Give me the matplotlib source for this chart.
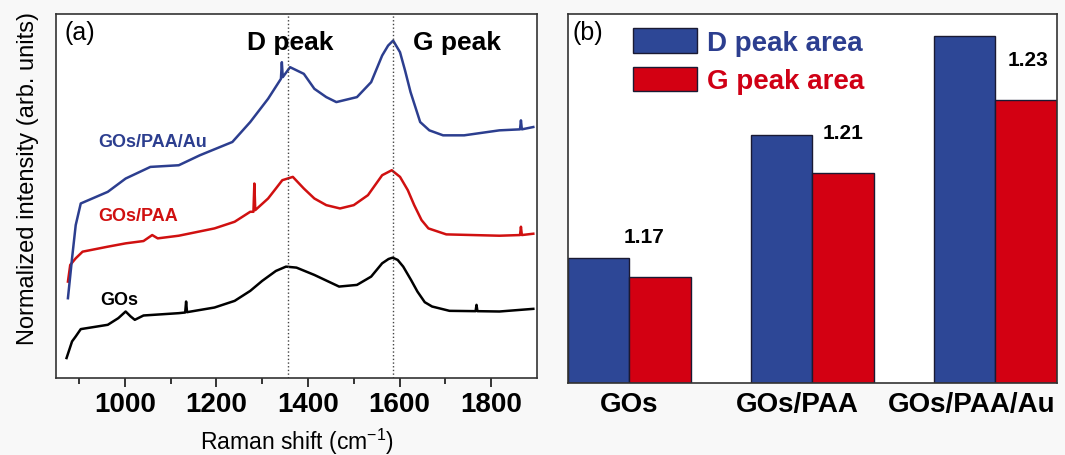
import matplotlib
matplotlib.use('Agg')
import matplotlib.pyplot as plt
import matplotlib.transforms as mtrans
import numpy as np

plt.rcParams['font.family'] = ['Liberation Sans', 'DejaVu Sans']
plt.rcParams['mathtext.fontset'] = 'custom'
plt.rcParams['mathtext.rm'] = 'Liberation Sans'

# ---- (a) Raman spectra ----
gos_x = [873, 885, 893, 904, 963, 986, 1002, 1013, 1022, 1041, 1118, 1132, 1134,
         1136, 1196, 1240, 1274, 1300, 1330, 1352, 1375, 1414, 1468, 1507, 1538,
         1562, 1576, 1585, 1596, 1608, 1625, 1639, 1655, 1671, 1709, 1766, 1768,
         1770, 1818, 1892]
gos_y = [0.060, 0.110, 0.125, 0.147, 0.160, 0.180, 0.200, 0.185, 0.175, 0.188,
         0.195, 0.197, 0.230, 0.198, 0.212, 0.232, 0.262, 0.292, 0.322, 0.335,
         0.332, 0.310, 0.275, 0.280, 0.305, 0.345, 0.358, 0.362, 0.355, 0.335,
         0.295, 0.260, 0.228, 0.215, 0.202, 0.201, 0.220, 0.201, 0.200, 0.208]

paa_x = [876, 881, 893, 908, 963, 1002, 1041, 1060, 1072, 1118, 1196, 1240, 1274,
         1281, 1283, 1285, 1313, 1330, 1344, 1367, 1391, 1414, 1440, 1470, 1500,
         1531, 1562, 1583, 1601, 1618, 1632, 1648, 1663, 1702, 1818, 1863, 1865,
         1867, 1892]
paa_y = [0.290, 0.340, 0.360, 0.380, 0.395, 0.405, 0.412, 0.430, 0.420, 0.428,
         0.450, 0.470, 0.500, 0.500, 0.585, 0.505, 0.540, 0.570, 0.595, 0.605,
         0.570, 0.540, 0.520, 0.510, 0.520, 0.550, 0.610, 0.625, 0.605, 0.565,
         0.520, 0.475, 0.450, 0.432, 0.428, 0.430, 0.455, 0.430, 0.434]

au_x = [876, 885, 893, 904, 963, 1002, 1056, 1118, 1164, 1235, 1274, 1313, 1341,
        1343, 1345, 1361, 1391, 1414, 1440, 1462, 1507, 1538, 1562, 1575, 1586,
        1601, 1612, 1624, 1645, 1665, 1695, 1741, 1818, 1863, 1865, 1867, 1892]
au_y = [0.240, 0.360, 0.460, 0.525, 0.560, 0.600, 0.635, 0.640, 0.670, 0.710,
        0.770, 0.840, 0.900, 0.950, 0.905, 0.935, 0.915, 0.870, 0.845, 0.830,
        0.845, 0.890, 0.970, 1.000, 1.015, 0.980, 0.925, 0.860, 0.770, 0.745,
        0.730, 0.730, 0.745, 0.748, 0.775, 0.748, 0.755]

d_pos = 1357
g_pos = 1585

# ---- (b) peak areas ----
samples = ['GOs', 'GOs/PAA', 'GOs/PAA/Au']
d_area = [0.338, 0.671, 0.941]
g_area = [0.288, 0.570, 0.766]
ratios = ['1.17', '1.21', '1.23']

blue = '#2C3E8F'
red = '#D00015'
bar_blue = '#2D4796'
bar_red = '#D30012'

fig = plt.figure(figsize=(10.65, 4.56), dpi=100, facecolor='#f8f8f8')
ax1 = fig.add_axes([0.0526, 0.1689, 0.4516, 0.7982])
ax2 = fig.add_axes([0.5333, 0.1579, 0.4592, 0.8092])

# left panel
ax1.plot(gos_x, gos_y, color='black', lw=1.8)
ax1.plot(paa_x, paa_y, color='#D01010', lw=1.8)
ax1.plot(au_x, au_y, color=blue, lw=1.8)
ax1.axvline(d_pos, color='#444444', ls=':', lw=1.0)
ax1.axvline(g_pos, color='#444444', ls=':', lw=1.0)

ax1.set_xlim(850, 1900)
ax1.set_ylim(0, 1.095)
ax1.set_yticks([])
ax1.set_xticks([1000, 1200, 1400, 1600, 1800])
ax1.set_xticks(np.arange(900, 1900, 200), minor=True)
ax1.tick_params(axis='x', which='major', direction='out', length=6.5, width=1.1,
                labelsize=20, pad=3)
ax1.tick_params(axis='x', which='minor', direction='out', length=4, width=1.1)
for lbl in ax1.get_xticklabels():
    lbl.set_fontweight('bold')
for s in ax1.spines.values():
    s.set_color('#333333')
    s.set_linewidth(1.2)

ax1.set_xlabel(r'Raman shift (cm$^{-1}$)', fontsize=16.5, labelpad=6)
ax1.set_ylabel('Normalized intensity (arb. units)', fontsize=17)
ax1.yaxis.set_label_coords(-0.035, 0.552)

ax1.text(0.017, 0.95, '(a)', transform=ax1.transAxes, fontsize=18,
         ha='left', va='center')
ax1.text(1362, 1.01, 'D peak', fontsize=19, fontweight='bold', ha='center', va='center')
ax1.text(1725, 1.01, 'G peak', fontsize=19, fontweight='bold', ha='center', va='center')
ax1.text(1061, 0.71, 'GOs/PAA/Au', fontsize=13, fontweight='bold', color=blue,
         ha='center', va='center')
ax1.text(1030, 0.49, 'GOs/PAA', fontsize=13, fontweight='bold', color='#D01010',
         ha='center', va='center')
ax1.text(987, 0.235, 'GOs', fontsize=13, fontweight='bold', color='black',
         ha='center', va='center')

# right panel
x = np.arange(len(samples))
w = 0.336
ax2.bar(x - w / 2, d_area, w, color=bar_blue, edgecolor='#1a1a33', lw=1.0,
        label='D peak area')
ax2.bar(x + w / 2, g_area, w, color=bar_red, edgecolor='#1a1a33', lw=1.0,
        label='G peak area')
ratio_dx = [-0.09, 0.0, 0.01]
for i in range(len(samples)):
    ax2.text(x[i] + w / 2 + ratio_dx[i], g_area[i] + 0.11, ratios[i], fontsize=15,
             fontweight='bold', ha='center', va='center')

ax2.set_xlim(-0.336, 2.337)
ax2.set_ylim(0, 1)
ax2.set_yticks([])
ax2.set_xticks(x)
ax2.set_xticklabels(samples, fontsize=20, fontweight='bold')
ax2.tick_params(axis='x', length=0, pad=6)
# the long labels sit a little left of their groups in the original
label_shift = [0, -15, -24]
for lbl, dx in zip(ax2.get_xticklabels(), label_shift):
    lbl.set_transform(lbl.get_transform() +
                      mtrans.ScaledTranslation(dx / 100, 0, fig.dpi_scale_trans))
for s in ax2.spines.values():
    s.set_color('#333333')
    s.set_linewidth(1.2)

ax2.text(0.01, 0.951, '(b)', transform=ax2.transAxes, fontsize=18,
         ha='left', va='center')
leg = ax2.legend(loc='upper left', bbox_to_anchor=(0.133, 0.962), frameon=False,
                 fontsize=20, handlelength=2.3, handleheight=1.0,
                 handletextpad=0.36, labelspacing=0.38, borderaxespad=0,
                 borderpad=0)
for txt, c in zip(leg.get_texts(), [blue, red]):
    txt.set_color(c)
    txt.set_fontweight('bold')

fig.savefig('out.png', dpi=100, facecolor=fig.get_facecolor())
